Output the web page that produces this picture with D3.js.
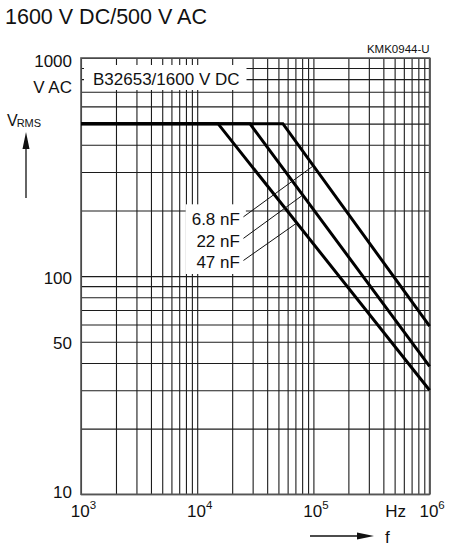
<!DOCTYPE html>
<html>
<head>
<meta charset="utf-8">
<script src="https://cdn.jsdelivr.net/npm/d3@7"></script>
<style>
  body { margin: 0; background: #fff; }
  text { font-family: "Liberation Sans", Arial, sans-serif; fill: #111; }
</style>
</head>
<body>
<div id="chart-area"></div>
<script>
const WIDTH = 453
const HEIGHT = 550
const PLOT = { LEFT: 81, RIGHT: 429.6, TOP: 58, BOTTOM: 494.3 }

// values
const capacitances = ["6.8 nF", "22 nF", "47 nF"]
const flatVoltage = 500
const cornerFreqs = [54.6e3, 28.4e3, 15.1e3]
const endVoltages = [59, 38.6, 30]
const freqRange = [1e3, 1e6]
const voltRange = [10, 1000]
const freqTicks = [1e3, 1e4, 1e5, 1e6]
const voltTicks = [1000, 100, 50, 10]

// label + leader anchors (data units)
const labelFreq = 2.33e4
const labelVolts = [171, 136, 109]
const leaderStartFreq = 2.5e4
const leaderStartVolts = [187, 149, 118]
const leaderEndFreqs = [1.0e5, 8.1e4, 7.2e4]

const svg = d3.select("#chart-area").append("svg")
  .attr("width", WIDTH)
  .attr("height", HEIGHT)

const x = d3.scaleLog().domain(freqRange).range([PLOT.LEFT, PLOT.RIGHT])
const y = d3.scaleLog().domain(voltRange).range([PLOT.BOTTOM, PLOT.TOP])

// curves: flat at 500 V then falling to the right edge
const curves = capacitances.map((name, i) => ({
  name: name,
  points: [[freqRange[0], flatVoltage], [cornerFreqs[i], flatVoltage], [freqRange[1], endVoltages[i]]]
}))

// voltage on a curve at frequency f (straight line in log-log)
function voltAt(i, f) {
  const t = (Math.log10(f) - Math.log10(cornerFreqs[i])) / (Math.log10(freqRange[1]) - Math.log10(cornerFreqs[i]))
  return Math.pow(10, Math.log10(flatVoltage) + t * (Math.log10(endVoltages[i]) - Math.log10(flatVoltage)))
}

// Grid
const grid = svg.append("g")
grid.append("g")
  .attr("transform", `translate(0, ${PLOT.BOTTOM})`)
  .call(d3.axisBottom(x).tickValues(x.ticks()).tickSize(-(PLOT.BOTTOM - PLOT.TOP)).tickFormat(""))
grid.append("g")
  .attr("transform", `translate(${PLOT.LEFT}, 0)`)
  .call(d3.axisLeft(y).tickValues(y.ticks()).tickSize(-(PLOT.RIGHT - PLOT.LEFT)).tickFormat(""))
grid.selectAll(".domain").remove()
grid.selectAll(".tick line")
  .attr("stroke", "#1c1c1c")
  .attr("stroke-width", 1.1)

svg.append("rect")
  .attr("x", PLOT.LEFT)
  .attr("y", PLOT.TOP)
  .attr("width", PLOT.RIGHT - PLOT.LEFT)
  .attr("height", PLOT.BOTTOM - PLOT.TOP)
  .attr("fill", "none")
  .attr("stroke", "#555")
  .attr("stroke-width", 1.6)

// Curves
const line = d3.line()
  .x(d => x(d[0]))
  .y(d => y(d[1]))
svg.append("g").selectAll("path")
  .data(curves)
  .enter().append("path")
  .attr("d", d => line(d.points))
  .attr("fill", "none")
  .attr("stroke", "#000")
  .attr("stroke-width", 3)
  .attr("stroke-linejoin", "miter")

// white box behind a group of texts
function boxBehind(group, padL, padR, padT, padB) {
  const b = group.node().getBBox()
  group.insert("rect", ":first-child")
    .attr("x", b.x - padL)
    .attr("y", b.y - padT)
    .attr("width", b.width + padL + padR)
    .attr("height", b.height + padT + padB)
    .attr("fill", "#fff")
}

// Product label
const product = svg.append("g")
product.append("text")
  .attr("x", PLOT.LEFT + 12)
  .attr("y", 85)
  .attr("font-size", "17px")
  .text("B32653/1600 V DC")
boxBehind(product, 9, 7, 5, 1)

// Capacitance labels
const capLabels = svg.append("g")
capacitances.forEach((name, i) => {
  capLabels.append("text")
    .attr("x", x(labelFreq))
    .attr("y", y(labelVolts[i]))
    .attr("text-anchor", "end")
    .attr("font-size", "17px")
    .text(name)
})
boxBehind(capLabels, 6, 6, 6, 2)

// Leaders
capacitances.forEach((name, i) => {
  svg.append("line")
    .attr("x1", x(leaderStartFreq))
    .attr("y1", y(leaderStartVolts[i]))
    .attr("x2", x(leaderEndFreqs[i]))
    .attr("y2", y(voltAt(i, leaderEndFreqs[i])))
    .attr("stroke", "#111")
    .attr("stroke-width", 1)
})

// Title
svg.append("text")
  .attr("x", 5)
  .attr("y", 24)
  .attr("font-size", "21.5px")
  .text("1600 V DC/500 V AC")

svg.append("text")
  .attr("x", PLOT.RIGHT)
  .attr("y", 53)
  .attr("text-anchor", "end")
  .attr("font-size", "11.5px")
  .text("KMK0944-U")

// Y tick labels
voltTicks.forEach(v => {
  const off = v === 1000 ? 9 : (v === 10 ? 4 : 7.5)
  svg.append("text")
    .attr("x", PLOT.LEFT - 9)
    .attr("y", y(v) + off)
    .attr("text-anchor", "end")
    .attr("font-size", "17px")
    .text(v)
})
svg.append("text")
  .attr("x", PLOT.LEFT - 9)
  .attr("y", 93)
  .attr("text-anchor", "end")
  .attr("font-size", "17px")
  .text("V AC")

// Y title with arrow
const yTitle = svg.append("text")
  .attr("x", 7)
  .attr("y", 126)
  .attr("font-size", "16px")
yTitle.append("tspan").text("V")
yTitle.append("tspan")
  .attr("font-size", "11px")
  .attr("dx", -1)
  .attr("dy", 1)
  .text("RMS")

svg.append("line")
  .attr("x1", 26).attr("y1", 198)
  .attr("x2", 26).attr("y2", 146)
  .attr("stroke", "#111")
  .attr("stroke-width", 1.3)
svg.append("path")
  .attr("d", "M26,132 L22.5,149 L29.5,149 Z")
  .attr("fill", "#111")

// X tick labels
freqTicks.forEach(f => {
  const t = svg.append("text")
    .attr("x", x(f) + 2.5)
    .attr("y", 517)
    .attr("text-anchor", "middle")
    .attr("font-size", "17px")
  t.append("tspan").text("10")
  t.append("tspan")
    .attr("font-size", "11.5px")
    .attr("dy", -8)
    .text(Math.round(Math.log10(f)))
})
svg.append("text")
  .attr("x", 406)
  .attr("y", 517)
  .attr("text-anchor", "end")
  .attr("font-size", "17px")
  .text("Hz")

// X title with arrow
svg.append("line")
  .attr("x1", 310).attr("y1", 536)
  .attr("x2", 358).attr("y2", 536)
  .attr("stroke", "#111")
  .attr("stroke-width", 1.3)
svg.append("path")
  .attr("d", "M374,536 L357,532.5 L357,539.5 Z")
  .attr("fill", "#111")
svg.append("text")
  .attr("x", 385)
  .attr("y", 543)
  .attr("font-size", "17px")
  .text("f")
</script>
</body>
</html>
